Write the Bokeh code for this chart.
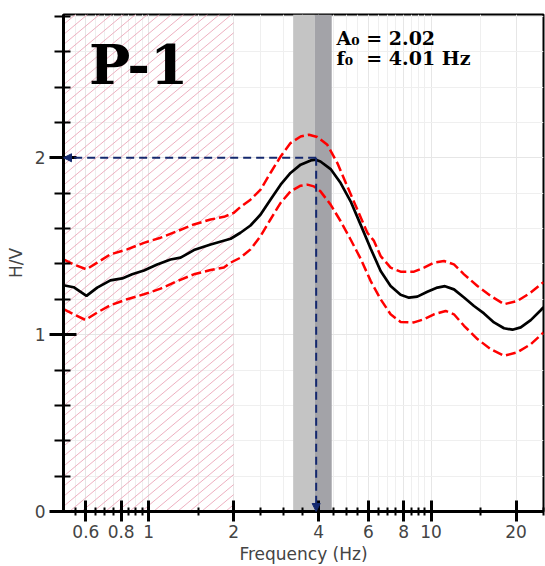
import numpy as np
from bokeh.plotting import figure
from bokeh.models import Range1d, FixedTicker, Label, Arrow, NormalHead, CustomJSTickFormatter
from bokeh.embed import file_html
from bokeh.resources import INLINE

# ---------------- data ----------------
freq_mean = [0.50, 0.543, 0.603, 0.658, 0.733, 0.807, 0.875, 0.963, 1.073, 1.196, 1.298, 1.447,
             1.658, 1.952, 2.115, 2.295, 2.492, 2.70, 2.934, 3.18, 3.453, 3.75, 3.903, 4.06,
             4.41, 4.786, 5.19, 5.63, 6.11, 6.63, 7.19, 7.80, 8.35, 8.94, 9.70, 10.53, 11.2,
             12.05, 13.08, 14.19, 15.39, 16.70, 18.12, 19.41, 20.77, 22.53, 24.44, 25.0]
hv_mean = [1.279, 1.268, 1.219, 1.266, 1.307, 1.318, 1.341, 1.363, 1.397, 1.425, 1.435, 1.478,
           1.510, 1.542, 1.576, 1.617, 1.679, 1.763, 1.848, 1.914, 1.961, 1.985, 1.989, 1.979,
           1.936, 1.857, 1.754, 1.622, 1.487, 1.360, 1.275, 1.225, 1.209, 1.215, 1.242, 1.266, 1.274,
           1.256, 1.210, 1.162, 1.120, 1.069, 1.036, 1.028, 1.041, 1.082, 1.138, 1.155]

freq_up = [0.50, 0.543, 0.603, 0.658, 0.733, 0.84, 0.963, 1.103, 1.264, 1.447, 1.658, 1.848,
           2.0, 2.115, 2.295, 2.492, 2.70, 2.934, 3.18, 3.453, 3.696, 3.957, 4.294, 4.659,
           5.054, 5.483, 5.95, 6.28, 6.63, 7.19, 7.80, 8.70, 9.44, 10.24, 11.11, 12.05, 13.08,
           14.59, 16.26, 18.12, 20.21, 22.53, 25.0]
hv_up = [1.425, 1.397, 1.369, 1.407, 1.454, 1.482, 1.519, 1.548, 1.585, 1.623, 1.651, 1.666,
         1.688, 1.722, 1.763, 1.820, 1.914, 2.007, 2.083, 2.120, 2.130, 2.117, 2.073, 1.970,
         1.838, 1.707, 1.576, 1.530, 1.444, 1.379, 1.356, 1.356, 1.379, 1.407, 1.416, 1.397, 1.341,
         1.275, 1.219, 1.172, 1.190, 1.238, 1.297]

freq_lo = [0.50, 0.543, 0.598, 0.658, 0.733, 0.84, 0.963, 1.103, 1.264, 1.447, 1.658, 1.848,
           1.952, 2.115, 2.295, 2.492, 2.70, 2.934, 3.18, 3.453, 3.648, 3.849, 4.06, 4.41,
           4.786, 5.19, 5.63, 6.11, 6.63, 7.19, 7.80, 8.70, 9.44, 10.24, 11.26, 12.05, 13.08,
           14.59, 16.26, 18.12, 20.21, 22.53, 25.0]
hv_lo = [1.144, 1.115, 1.083, 1.125, 1.166, 1.200, 1.228, 1.260, 1.303, 1.341, 1.365, 1.379,
         1.407, 1.435, 1.482, 1.557, 1.651, 1.745, 1.810, 1.842, 1.848, 1.838, 1.810, 1.735,
         1.641, 1.538, 1.430, 1.304, 1.200, 1.115, 1.072, 1.069, 1.087, 1.115, 1.134, 1.115, 1.050,
         0.975, 0.918, 0.881, 0.900, 0.946, 1.012]

# peak and its band
A0_text = "2.02"
f0_text = "4.01"
peak_freq = 3.92        # where the arrows are drawn
peak_amp = 2.0
band_light = (3.25, 3.88)
band_dark = (3.88, 4.45)
hatch_range = (0.5, 2.0)

x_major = [0.6, 0.8, 1, 2, 4, 6, 8, 10, 20]
x_minor = [0.55, 0.65, 0.7, 0.75, 0.85, 0.9, 0.95, 1.5, 2.5, 3, 3.5, 4.5, 5, 5.5,
           6.5, 7, 7.5, 8.5, 9, 9.5, 15, 25]
y_major = [0, 1, 2]
y_minor = [0.2, 0.4, 0.6, 0.8, 1.2, 1.4, 1.6, 1.8, 2.2, 2.4, 2.6, 2.8]

X_MIN, X_MAX = 0.5, 25
Y_MIN, Y_MAX = 0, 2.81

# ---------------- layout ----------------
W, H = 545, 566
B_LEFT, B_RIGHT, B_TOP, B_BOTTOM = 63, 2, 14, 53
FW = W - B_LEFT - B_RIGHT
FH = H - B_TOP - B_BOTTOM

p = figure(width=W, height=H, x_axis_type="log",
           x_range=Range1d(X_MIN, X_MAX), y_range=Range1d(Y_MIN, Y_MAX),
           output_backend="svg", toolbar_location=None,
           min_border_left=B_LEFT, min_border_right=B_RIGHT,
           min_border_top=B_TOP, min_border_bottom=B_BOTTOM,
           background_fill_color="white", border_fill_color="white")

p.outline_line_color = "black"
p.outline_line_width = 2

xt = FixedTicker(ticks=x_major, minor_ticks=x_minor)
yt = FixedTicker(ticks=y_major, minor_ticks=y_minor)
p.xaxis.ticker = xt
p.yaxis.ticker = yt
p.xgrid.ticker = xt
p.ygrid.ticker = yt
p.xaxis.formatter = CustomJSTickFormatter(code="return String(Math.round(tick*100)/100);")

for g in (p.xgrid, p.ygrid):
    g.grid_line_color = "#e6e6e6"
    g.grid_line_width = 1
    g.minor_grid_line_color = "#efefef"
    g.minor_grid_line_width = 1

for ax in (p.xaxis, p.yaxis):
    ax.axis_line_color = "black"
    ax.axis_line_width = 3
    ax.major_tick_line_color = "black"
    ax.major_tick_line_width = 3
    ax.minor_tick_line_color = "black"
    ax.minor_tick_line_width = 2
    ax.major_label_text_font = "DejaVu Sans"
    ax.major_label_text_font_size = "17px"
    ax.major_label_text_color = "#444444"
    ax.axis_label_text_font = "DejaVu Sans"
    ax.axis_label_text_font_size = "17px"
    ax.axis_label_text_font_style = "normal"
    ax.axis_label_text_color = "#444444"

p.xaxis.major_tick_in = 11
p.xaxis.major_tick_out = 10
p.xaxis.minor_tick_in = 4
p.xaxis.minor_tick_out = 4
p.xaxis.major_label_standoff = 3
p.xaxis.axis_label_standoff = 3
p.xaxis.axis_label = "Frequency (Hz)"

p.yaxis.major_tick_in = 13
p.yaxis.major_tick_out = 14
p.yaxis.minor_tick_in = 7
p.yaxis.minor_tick_out = 9
p.yaxis.major_label_standoff = 4
p.yaxis.axis_label_standoff = 6
p.yaxis.axis_label = "H/V"

# ---- hatched (unreliable) band: diagonal lines ~40 deg, 12 px apart ----
px_per_dec = FW / np.log10(X_MAX / X_MIN)
px_per_unit = FH / (Y_MAX - Y_MIN)
hw = np.log10(hatch_range[1] / hatch_range[0]) * px_per_dec
slope, step = 0.84, 12.0
x0s, y0s, x1s, y1s = [], [], [], []
c = -FH / slope
while c < hw:
    u0 = max(0.0, c)
    u1 = min(hw, c + FH / slope)
    if u1 > u0:
        x0s.append(hatch_range[0] * 10 ** (u0 / px_per_dec))
        x1s.append(hatch_range[0] * 10 ** (u1 / px_per_dec))
        y0s.append(Y_MIN + slope * (u0 - c) / px_per_unit)
        y1s.append(Y_MIN + slope * (u1 - c) / px_per_unit)
    c += step
p.segment(x0=x0s, y0=y0s, x1=x1s, y1=y1s, line_color="#eba7b9", line_width=1, line_alpha=0.9)

# grey f0 bands
p.quad(left=[band_light[0]], right=[band_light[1]], bottom=[Y_MIN], top=[Y_MAX],
       fill_color="#c4c4c4", line_alpha=0)
p.quad(left=[band_dark[0]], right=[band_dark[1]], bottom=[Y_MIN], top=[Y_MAX],
       fill_color="#a3a3a8", line_alpha=0)

# curves
p.line(freq_up, hv_up, line_color="#ff0000", line_width=2.5, line_dash="10 4")
p.line(freq_lo, hv_lo, line_color="#ff0000", line_width=2.5, line_dash="10 4")
p.line(freq_mean, hv_mean, line_color="black", line_width=2.7)

navy = "#14286e"
p.add_layout(Arrow(end=NormalHead(size=8, fill_color=navy, line_color=navy),
                   x_start=peak_freq, y_start=peak_amp, x_end=X_MIN, y_end=peak_amp,
                   line_color=navy, line_width=2, line_dash="8 5"))
p.add_layout(Arrow(end=NormalHead(size=8, fill_color=navy, line_color=navy),
                   x_start=peak_freq, y_start=peak_amp, x_end=peak_freq, y_end=Y_MIN,
                   line_color=navy, line_width=2, line_dash="8 5"))

p.add_layout(Label(x=0.615, y=2.53, text="P-1", text_font="DejaVu Serif",
                   text_font_size="55px", text_font_style="bold", text_color="black",
                   text_baseline="alphabetic"))
p.add_layout(Label(x=4.63, y=2.676, text="A\u2080 = " + A0_text, text_font="DejaVu Serif",
                   text_font_size="19px", text_font_style="bold", text_color="black",
                   text_baseline="alphabetic"))
p.add_layout(Label(x=4.63, y=2.563, text="f\u2080\u00a0 = " + f0_text + " Hz", text_font="DejaVu Serif",
                   text_font_size="19px", text_font_style="bold", text_color="black",
                   text_baseline="alphabetic"))

open("out.html", "w").write(file_html(p, INLINE))
